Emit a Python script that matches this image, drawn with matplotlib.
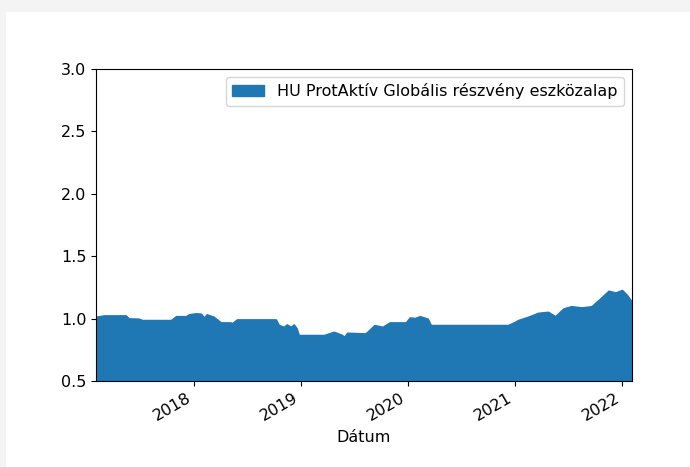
import matplotlib
matplotlib.use('Agg')
import matplotlib.pyplot as plt
import matplotlib.dates as mdates
from matplotlib.patches import Rectangle
import pandas as pd

# Fund price index (flat stretches are forward-filled prices)
dates = ['2017-02-01', '2017-02-28', '2017-05-14', '2017-05-24', '2017-06-27',
         '2017-07-08', '2017-10-15', '2017-11-01', '2017-12-05', '2017-12-15',
         '2018-01-08', '2018-01-25', '2018-02-04', '2018-02-14', '2018-03-10',
         '2018-04-03', '2018-05-07', '2018-05-10', '2018-05-28', '2018-10-08',
         '2018-10-18', '2018-11-04', '2018-11-14', '2018-11-28', '2018-12-08',
         '2018-12-18', '2018-12-25', '2019-03-21', '2019-04-24', '2019-05-22',
         '2019-05-29', '2019-06-08', '2019-08-09', '2019-08-16', '2019-09-09',
         '2019-10-07', '2019-10-31', '2019-12-25', '2020-01-08', '2020-01-25',
         '2020-02-11', '2020-03-09', '2020-03-20', '2020-11-28', '2020-12-08',
         '2021-01-01', '2021-01-11', '2021-02-14', '2021-03-21', '2021-04-24',
         '2021-05-18', '2021-06-15', '2021-07-12', '2021-08-16', '2021-09-19',
         '2021-10-13', '2021-11-16', '2021-12-10', '2022-01-01', '2022-01-18',
         '2022-02-04']
values = [1.015, 1.026, 1.026, 1.002, 1.0,
          0.989, 0.989, 1.02, 1.02, 1.035,
          1.043, 1.04, 1.01, 1.035, 1.015,
          0.97, 0.97, 0.962, 0.994, 0.994,
          0.949, 0.935, 0.954, 0.935, 0.954,
          0.922, 0.869, 0.869, 0.895, 0.869,
          0.855, 0.887, 0.882, 0.895, 0.949,
          0.935, 0.97, 0.97, 1.01, 1.005,
          1.02, 1.0, 0.949, 0.949, 0.949,
          0.975, 0.989, 1.015, 1.047, 1.055,
          1.02, 1.082, 1.1, 1.09, 1.1,
          1.15, 1.224, 1.21, 1.23, 1.19,
          1.135]
fund_name = 'HU ProtAktív Globális részvény eszközalap'

df = pd.DataFrame({'Dátum': pd.to_datetime(dates), fund_name: values})

plt.rcParams['font.size'] = 11.5

fig = plt.figure(figsize=(6.9, 4.67), dpi=100)
fig.patch.set_facecolor('#f4f4f4')
fig.patches.append(Rectangle((6 / 690, 0), 1, (467 - 12) / 467,
                             transform=fig.transFigure, facecolor='white',
                             edgecolor='none', zorder=-1))

ax = fig.add_axes([0.1391, 0.1842, 0.7768, 0.668])
ax.fill_between(df['Dátum'], 0, df[fund_name], color='#1f77b4', linewidth=1,
                edgecolor='#1f77b4', label=fund_name)

ax.set_xlim(pd.Timestamp('2017-02-01'), pd.Timestamp('2022-02-04'))
ax.set_ylim(0.5, 3.0)
ax.xaxis.set_major_locator(mdates.YearLocator())
ax.xaxis.set_major_formatter(mdates.DateFormatter('%Y'))
for lbl in ax.get_xticklabels():
    lbl.set_rotation(30)
    lbl.set_ha('right')
ax.set_xlabel('Dátum')
ax.legend(loc='upper right')

fig.savefig('out.png', dpi=100, facecolor=fig.get_facecolor())
